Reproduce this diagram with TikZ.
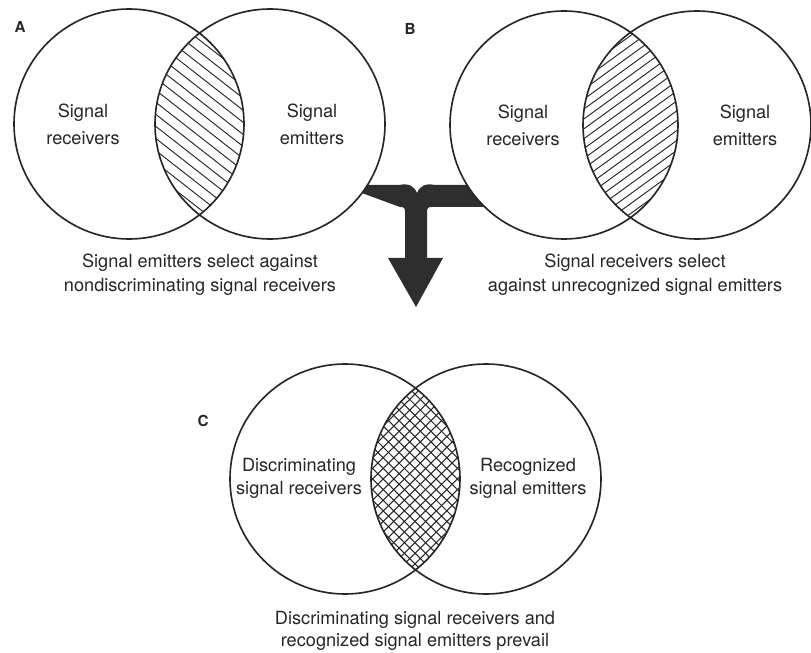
\documentclass[tikz,border=0pt]{standalone}
\usepackage{fontspec}
\setmainfont{TeX Gyre Heros}
\usetikzlibrary{positioning}
\tikzset{>=stealth}

\begin{document}
\begin{tikzpicture}[x=0.03cm, y=-0.03cm,
  ring/.style={line width=1.4pt, draw=black!85},
  hatch/.style={line width=0.8pt, draw=black!85},
  txt/.style={font=\fontsize{15.5}{23}\selectfont, align=center, text=black!85, inner sep=0pt},
  captext/.style={font=\fontsize{15.5}{20.5}\selectfont, align=center, text=black!85, inner sep=0pt},
  tag/.style={font=\fontsize{13}{13}\selectfont\bfseries, text=black!85, inner sep=0pt}]
  \useasboundingbox (0,0) rectangle (811,653);

  \coordinate (a1) at (129,124);
  \coordinate (a2) at (270,124);
  \coordinate (b1) at (564,125);
  \coordinate (b2) at (697,125);
  \coordinate (c1) at (345,479);
  \coordinate (c2) at (486,479);

  % the T-shaped arrow, its ends hidden under the circles
  \fill[black!82] (340,185) -- (399,185) .. controls (409,183) and (414,186) .. (417,193)
    .. controls (420,186) and (425,183) .. (435,185) -- (490,185) -- (490,207) -- (432,207)
    .. controls (428,207) and (427,208) .. (427,212) -- (427,258) -- (443,258) -- (416,307)
    -- (388,258) -- (405,258) -- (405,212) .. controls (405,208) and (404,207) .. (400,207) -- cycle;

  \fill[white] (a1) circle[radius=115] (a2) circle[radius=115];
  \fill[white] (b1) circle[radius=114] (b2) circle[radius=114];

  % A
  \begin{scope}
    \clip (a1) circle[radius=115];
    \clip (a2) circle[radius=115];
    \begin{scope}[shift={(199,124)}, rotate=-38]
      \foreach \k in {-14,...,14}
        \draw[hatch] (-200,\k*9.5) -- (200,\k*9.5);
    \end{scope}
  \end{scope}
  \draw[ring] (a1) circle[radius=115] (a2) circle[radius=115];
  \node[tag] (la) at (20,27) {A};
  \node[txt] (ra) at (83,124) {Signal\\receivers};
  \node[txt] (ea) at (312,124) {Signal\\emitters};
  \node[captext] (capa) at (200,275) {Signal emitters select against\\nondiscriminating signal receivers};

  % B
  \begin{scope}
    \clip (b1) circle[radius=114];
    \clip (b2) circle[radius=114];
    \begin{scope}[shift={(630,125)}, rotate=36]
      \foreach \k in {-16,...,16}
        \draw[hatch] (-200,\k*8) -- (200,\k*8);
    \end{scope}
  \end{scope}
  \draw[ring] (b1) circle[radius=114] (b2) circle[radius=114];
  \node[tag] (lb) at (410,29) {B};
  \node[txt] (rb) at (523,125) {Signal\\receivers};
  \node[txt] (eb) at (745,125) {Signal\\emitters};
  \node[captext] (capb) at (635,275) {Signal receivers select\\against unrecognized signal emitters};

  % C
  \begin{scope}
    \clip (c1) circle[radius=115];
    \clip (c2) circle[radius=115];
    \foreach \a in {45,-45}
    {
      \begin{scope}[shift={(415,479)}, rotate=\a]
        \foreach \k in {-18,...,18}
          \draw[hatch, line width=0.9pt] (-200,\k*7.5) -- (200,\k*7.5);
      \end{scope}
    }
  \end{scope}
  \draw[ring] (c1) circle[radius=115] (c2) circle[radius=115];
  \node[tag] (lc) at (203,421) {C};
  \node[txt, font=\fontsize{15.5}{19.5}\selectfont] (rc) at (299,478) {Discriminating\\signal receivers};
  \node[txt, font=\fontsize{15.5}{19.5}\selectfont] (ec) at (528,478) {Recognized\\signal emitters};
  \node[captext, font=\fontsize{15.5}{19}\selectfont] (capc) at (415,631) {Discriminating signal receivers and\\recognized signal emitters prevail};
\end{tikzpicture}
\end{document}
